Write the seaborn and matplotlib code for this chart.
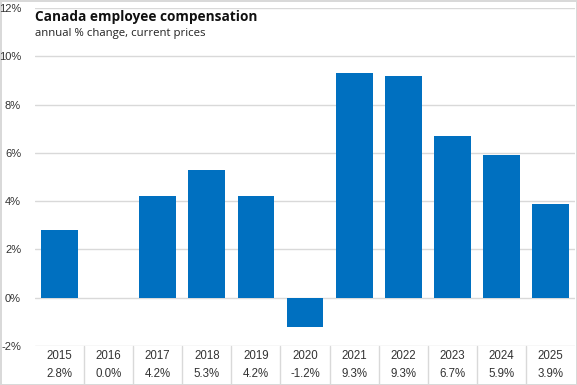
import matplotlib
matplotlib.use("Agg")
import matplotlib.pyplot as plt
import matplotlib.transforms as mtransforms
import seaborn as sns

# Data
years = ["2015", "2016", "2017", "2018", "2019", "2020",
         "2021", "2022", "2023", "2024", "2025"]
changes = [2.8, 0.0, 4.2, 5.3, 4.2, -1.2, 9.3, 9.2, 6.7, 5.9, 3.9]
change_labels = ["2.8%", "0.0%", "4.2%", "5.3%", "4.2%", "-1.2%",
                 "9.3%", "9.3%", "6.7%", "5.9%", "3.9%"]
y_ticks = [-2, 0, 2, 4, 6, 8, 10, 12]

BLUE = "#0070C0"
GRID = "#d9d9d9"

sns.set_style("white")
plt.rcParams["font.family"] = ["Liberation Sans", "DejaVu Sans"]

fig = plt.figure(figsize=(5.77, 3.85), dpi=100)
ax = fig.add_axes([35 / 577, 39 / 385, 540 / 577, 338 / 385])

sns.barplot(x=years, y=changes, color=BLUE, width=0.75, saturation=1,
            linewidth=0, ax=ax, zorder=3)

ax.set_xlim(-0.5, len(years) - 0.5)
ax.set_ylim(-2, 12)
ax.set_yticks(y_ticks)
ax.set_yticklabels([f"{t}%" for t in y_ticks], fontsize=8, color="#333333")
ax.yaxis.grid(True, color=GRID, linewidth=1, zorder=0)
ax.tick_params(axis="y", length=0, pad=10)
ax.set_xticks([])
ax.set_xlabel("")
ax.set_ylabel("")
for s in ax.spines.values():
    s.set_visible(False)

# table below the chart
trans = mtransforms.blended_transform_factory(ax.transData, ax.transAxes)
table_h = 38 / 338
for i in range(len(years) - 1):
    ax.plot([i + 0.5, i + 0.5], [0, -table_h], transform=trans,
            color=GRID, linewidth=1, clip_on=False)
for i, (yr, lab) in enumerate(zip(years, change_labels)):
    ax.text(i, -10 / 338, yr, transform=trans, ha="center", va="center",
            fontsize=8.3, color="#333333")
    ax.text(i, -28 / 338, lab, transform=trans, ha="center", va="center",
            fontsize=8.3, color="#333333")

# title block
fig.text(35 / 577, 1 - 21 / 385, "Canada employee compensation",
         fontsize=9.8, fontweight="bold", family=["Open Sans", "DejaVu Sans"],
         ha="left", va="baseline", color="#111111")
fig.text(35 / 577, 1 - 36 / 385, "annual % change, current prices",
         fontsize=8.2, family=["Open Sans", "DejaVu Sans"],
         ha="left", va="baseline", color="#222222")

fig.patch.set_edgecolor(GRID)
fig.patch.set_linewidth(2)

fig.savefig("out.png", dpi=100, edgecolor=fig.get_edgecolor())
